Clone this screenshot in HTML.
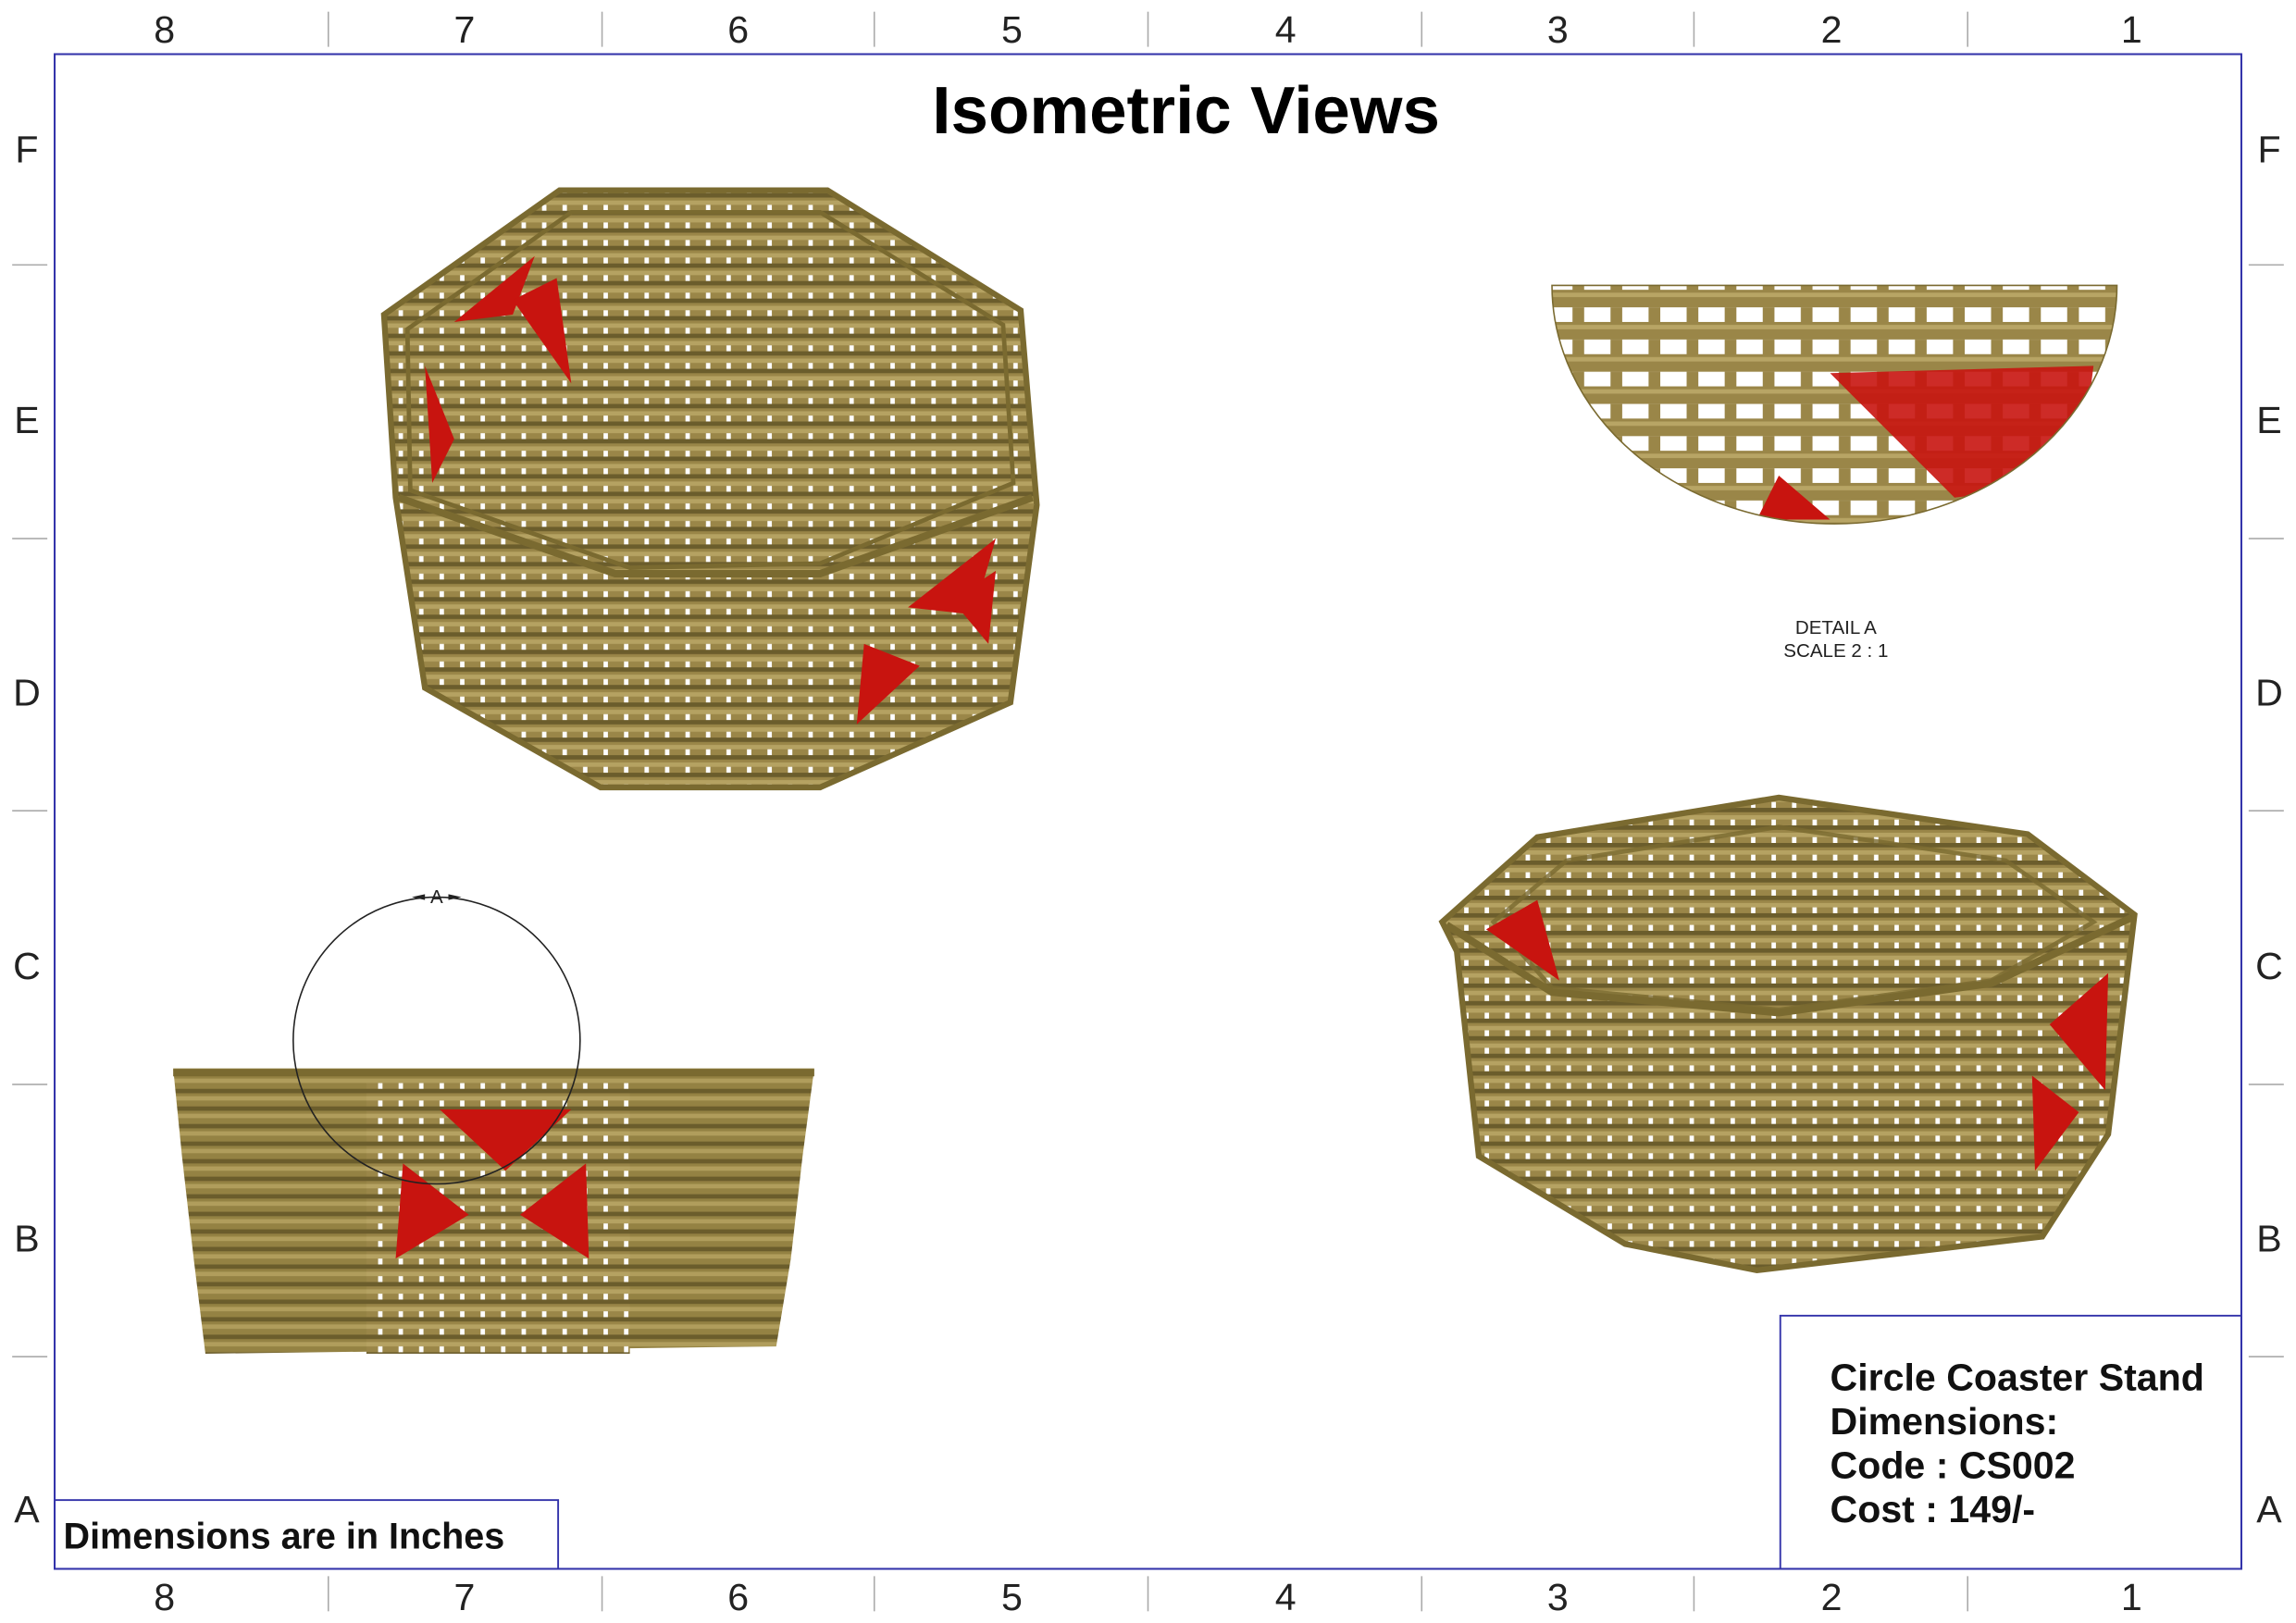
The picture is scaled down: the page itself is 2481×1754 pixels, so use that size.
<!DOCTYPE html>
<html><head><meta charset="utf-8"><style>
html,body{margin:0;padding:0;background:#fff;}
svg{display:block;}
text{font-family:"Liberation Sans",sans-serif;}
</style></head><body>
<svg width="2481" height="1754" viewBox="0 0 1568 1109" xmlns="http://www.w3.org/2000/svg">
<defs>
<pattern id="weave" width="14" height="12" patternUnits="userSpaceOnUse">
<rect width="14" height="12" fill="#9a8648"/>
<rect y="0" width="14" height="3" fill="#6b5d2c"/>
<rect y="5" width="14" height="3" fill="#b5a262"/>
<rect x="6" y="8" width="3" height="4" fill="#ffffff"/>
</pattern>
<pattern id="weave2" width="14" height="12" patternUnits="userSpaceOnUse">
<rect width="14" height="12" fill="#948243"/>
<rect y="0" width="14" height="3" fill="#6b5d2c"/>
<rect y="5" width="14" height="3" fill="#b09d5c"/>
</pattern>
<pattern id="detail" width="26" height="22" patternUnits="userSpaceOnUse">
<rect width="26" height="22" fill="#ffffff"/>
<rect y="0" width="26" height="12" fill="#9a8648"/>
<rect y="2" width="26" height="3" fill="#b8a565"/>
<rect x="8" y="12" width="8" height="10" fill="#9a8648"/>
</pattern>
<clipPath id="half"><path d="M1060 195 H1446 A193 163 0 0 1 1060 195 Z"/></clipPath>
</defs>

<rect x="37" y="37" width="1494" height="1035" fill="none" stroke="#3333aa" stroke-width="1.3"/>
<g stroke="#aaaaaa" stroke-width="1">
<line x1="224" y1="8" x2="224" y2="32"/><line x1="411" y1="8" x2="411" y2="32"/><line x1="597" y1="8" x2="597" y2="32"/><line x1="784" y1="8" x2="784" y2="32"/><line x1="971" y1="8" x2="971" y2="32"/><line x1="1157" y1="8" x2="1157" y2="32"/><line x1="1344" y1="8" x2="1344" y2="32"/>
<line x1="224" y1="1077" x2="224" y2="1101"/><line x1="411" y1="1077" x2="411" y2="1101"/><line x1="597" y1="1077" x2="597" y2="1101"/><line x1="784" y1="1077" x2="784" y2="1101"/><line x1="971" y1="1077" x2="971" y2="1101"/><line x1="1157" y1="1077" x2="1157" y2="1101"/><line x1="1344" y1="1077" x2="1344" y2="1101"/>
<line x1="8" y1="181" x2="32" y2="181"/><line x1="8" y1="368" x2="32" y2="368"/><line x1="8" y1="554" x2="32" y2="554"/><line x1="8" y1="741" x2="32" y2="741"/><line x1="8" y1="927" x2="32" y2="927"/>
<line x1="1536" y1="181" x2="1560" y2="181"/><line x1="1536" y1="368" x2="1560" y2="368"/><line x1="1536" y1="554" x2="1560" y2="554"/><line x1="1536" y1="741" x2="1560" y2="741"/><line x1="1536" y1="927" x2="1560" y2="927"/>
</g>
<g font-size="26" fill="#222" text-anchor="middle">
<text x="112" y="29">8</text><text x="317" y="29">7</text><text x="504" y="29">6</text><text x="691" y="29">5</text><text x="878" y="29">4</text><text x="1064" y="29">3</text><text x="1251" y="29">2</text><text x="1456" y="29">1</text>
<text x="112" y="1100">8</text><text x="317" y="1100">7</text><text x="504" y="1100">6</text><text x="691" y="1100">5</text><text x="878" y="1100">4</text><text x="1064" y="1100">3</text><text x="1251" y="1100">2</text><text x="1456" y="1100">1</text>
<text x="18" y="111">F</text><text x="18" y="296">E</text><text x="18" y="482">D</text><text x="18" y="669">C</text><text x="18" y="855">B</text><text x="18" y="1040">A</text>
<text x="1550" y="111">F</text><text x="1550" y="296">E</text><text x="1550" y="482">D</text><text x="1550" y="669">C</text><text x="1550" y="855">B</text><text x="1550" y="1040">A</text>
</g>

<text x="810" y="91" font-size="46" font-weight="bold" text-anchor="middle" fill="#000">Isometric Views</text>

<!-- top-left basket -->
<polygon points="262,215 382,130 565,130 697,212 708,345 690,480 560,538 410,538 290,470 270,340" fill="url(#weave)" stroke="#7a6a30" stroke-width="4"/>
<polygon points="330,340 420,300 560,300 640,345 560,395 430,410" fill="url(#weave)" opacity="0.9"/>
<polyline points="272,340 420,392 560,392 705,340" fill="none" stroke="#7a6a30" stroke-width="5"/>
<polygon points="278,225 390,145 560,145 685,222 692,330 560,385 430,388 280,335" fill="none" stroke="#7a6a30" stroke-width="3"/>
<g fill="#c8140f">
<polygon points="310,220 365,175 350,215"/><polygon points="350,205 380,190 390,262"/><polygon points="290,250 310,300 295,330"/>
<polygon points="620,415 680,368 665,420"/><polygon points="650,410 680,390 675,440"/><polygon points="590,440 628,455 585,495"/>
</g>

<!-- bottom-left basket -->
<polygon points="118,730 556,730 548,790 540,860 530,920 140,925 132,860 124,790" fill="url(#weave2)"/>
<rect x="250" y="740" width="180" height="185" fill="url(#weave)"/>
<line x1="118" y1="733" x2="556" y2="733" stroke="#7a6a30" stroke-width="5"/>
<g fill="#c8140f">
<polygon points="300,758 390,758 345,800"/>
<polygon points="275,795 320,830 270,860"/>
<polygon points="400,795 355,830 402,860"/>
</g>
<circle cx="298" cy="711" r="98" fill="none" stroke="#222" stroke-width="1"/>
<text x="298" y="617" font-size="13" text-anchor="middle" fill="#222">A</text>
<polygon points="281,613 290,611 290,615" fill="#222"/><polygon points="315,613 306,611 306,615" fill="#222"/>

<!-- detail A -->
<g clip-path="url(#half)">
<rect x="1060" y="195" width="386" height="165" fill="url(#detail)"/>
<polygon points="1250,255 1430,250 1420,330 1335,340" fill="#c8140f" opacity="0.9"/>
<polygon points="1200,355 1215,325 1250,355" fill="#c8140f"/>
</g>
<path d="M1060 195 H1446 A193 163 0 0 1 1060 195 Z" fill="none" stroke="#7a6a30" stroke-width="1"/>
<text x="1254" y="433" font-size="13" text-anchor="middle" fill="#222">DETAIL A</text>
<text x="1254" y="449" font-size="13" text-anchor="middle" fill="#222">SCALE 2 : 1</text>

<!-- bottom-right basket -->
<polygon points="985,630 1050,572 1215,545 1385,570 1458,625 1440,775 1395,845 1200,868 1110,850 1010,790 995,650" fill="url(#weave)" stroke="#7a6a30" stroke-width="4"/>
<polygon points="1020,630 1070,588 1215,565 1370,588 1430,630 1360,670 1215,690 1060,675" fill="url(#weave)" opacity="0.8" stroke="#7a6a30" stroke-width="3"/>
<polyline points="988,632 1060,678 1215,692 1360,672 1456,627" fill="none" stroke="#7a6a30" stroke-width="5"/>
<g fill="#c8140f">
<polygon points="1015,635 1050,615 1065,670"/><polygon points="1400,700 1440,665 1438,745"/><polygon points="1388,735 1420,760 1390,800"/>
</g>

<!-- title block -->
<rect x="1216" y="899" width="315" height="173" fill="none" stroke="#3333aa" stroke-width="1.2"/>
<g font-size="26" font-weight="bold" fill="#111">
<text x="1250" y="950">Circle Coaster Stand</text>
<text x="1250" y="980">Dimensions:</text>
<text x="1250" y="1010">Code : CS002</text>
<text x="1250" y="1040">Cost : 149/-</text>
</g>
<rect x="37" y="1025" width="344" height="47" fill="none" stroke="#3333aa" stroke-width="1.2"/>
<text x="43" y="1058" font-size="25" font-weight="bold" fill="#111">Dimensions are in Inches</text>
</svg>
</body></html>
